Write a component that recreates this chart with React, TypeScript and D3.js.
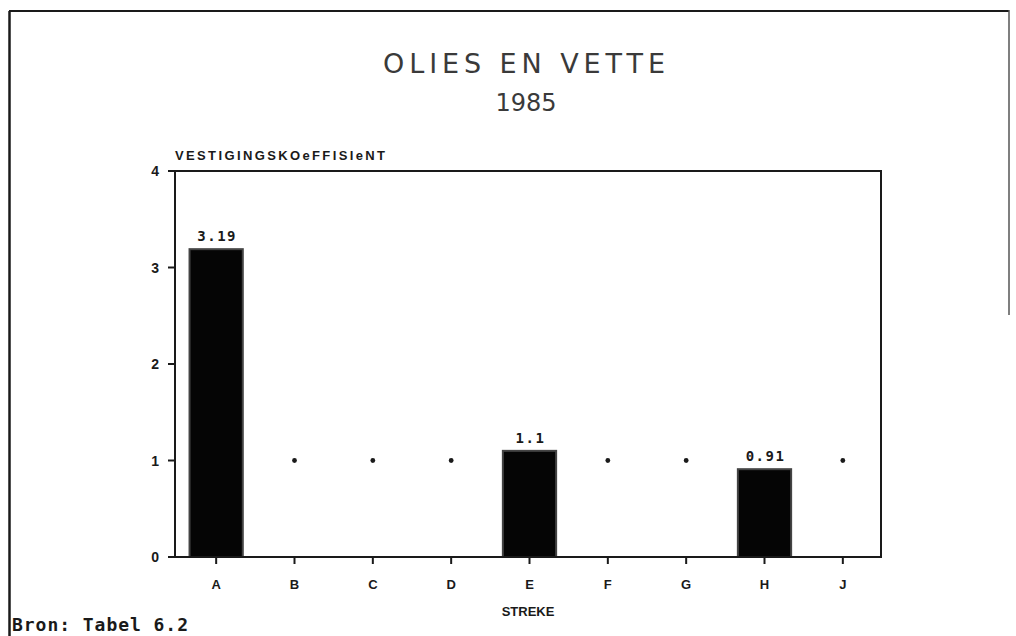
import React from "react";
import * as d3 from "d3";

const categories = ["A", "B", "C", "D", "E", "F", "G", "H", "J"];
const barValues: (number | null)[] = [3.19, null, null, null, 1.1, null, null, 0.91, null];
const dotValues: (number | null)[] = [null, 1, 1, 1, null, 1, 1, null, 1];
const barLabels = ["3.19", "", "", "", "1.1", "", "", "0.91", ""];
const yTicks = [0, 1, 2, 3, 4];

const W = 1016;
const H = 636;
const plot = { left: 175, right: 881, top: 171, bottom: 557 };

export default function App() {
  const x = d3
    .scaleBand<string>()
    .domain(categories)
    .range([plot.left + 2, plot.right + 1])
    .paddingInner(0.32)
    .paddingOuter(0.16);
  const y = d3.scaleLinear().domain([0, 4]).range([plot.bottom, plot.top]);
  const cx = (c: string) => (x(c) as number) + x.bandwidth() / 2;
  const ink = "#1a1a1a";

  return (
    <svg width={W} height={H} style={{ position: "absolute", left: 0, top: 0, background: "#fff" }}>
      <rect x={0} y={0} width={W} height={H} fill="#fff" />
      {/* outer frame */}
      <line x1={9.5} y1={11} x2={9.5} y2={H} stroke={ink} strokeWidth={2.5} />
      <line x1={9} y1={11} x2={1009} y2={11} stroke={ink} strokeWidth={2} />
      <line x1={1009} y1={10} x2={1009} y2={315} stroke="#555" strokeWidth={1.5} />

      {/* titles */}
      <text x={524} y={73} textAnchor="middle" fontFamily="DejaVu Sans" fontSize={27} fill="#3a3a3a" textLength={282} lengthAdjust="spacing">
        OLIES EN VETTE
      </text>
      <text x={526} y={111} textAnchor="middle" fontFamily="DejaVu Sans" fontSize={24} fill="#3a3a3a">
        1985
      </text>

      {/* y axis title */}
      <text x={175} y={160} fontFamily="Liberation Sans" fontWeight="bold" fontSize={13} fill={ink} textLength={210} lengthAdjust="spacing">
        VESTIGINGSKOeFFISIeNT
      </text>

      {/* bars */}
      {categories.map((c, i) =>
        barValues[i] != null ? (
          <rect
            key={"b" + c}
            x={x(c) as number}
            y={y(barValues[i] as number)}
            width={x.bandwidth()}
            height={plot.bottom - y(barValues[i] as number)}
            fill="#050505"
            stroke="#444"
            strokeWidth={2}
          />
        ) : null
      )}
      {categories.map((c, i) =>
        barValues[i] != null ? (
          <text
            key={"l" + c}
            x={cx(c) + 1}
            y={y(barValues[i] as number) - 8}
            textAnchor="middle"
            fontFamily="DejaVu Sans Mono"
            fontWeight="bold"
            fontSize={14}
            letterSpacing={1.5}
            fill={ink}
          >
            {barLabels[i]}
          </text>
        ) : null
      )}

      {/* dots */}
      {categories.map((c, i) =>
        dotValues[i] != null ? <circle key={"d" + c} cx={cx(c)} cy={y(dotValues[i] as number)} r={2.4} fill={ink} /> : null
      )}

      {/* plot frame */}
      <rect x={plot.left} y={plot.top} width={plot.right - plot.left} height={plot.bottom - plot.top} fill="none" stroke={ink} strokeWidth={2} />

      {/* y ticks */}
      {yTicks.map((t) => (
        <g key={"yt" + t}>
          <line x1={plot.left - 7} x2={plot.left} y1={y(t)} y2={y(t)} stroke={ink} strokeWidth={2} />
          <text x={159} y={y(t) + 5} textAnchor="end" fontFamily="Liberation Sans" fontWeight="bold" fontSize={14} fill={ink}>
            {t}
          </text>
        </g>
      ))}

      {/* x ticks */}
      {categories.map((c) => (
        <g key={"xt" + c}>
          <line x1={cx(c)} x2={cx(c)} y1={plot.bottom} y2={plot.bottom + 7} stroke={ink} strokeWidth={2} />
          <text x={cx(c)} y={589} textAnchor="middle" fontFamily="Liberation Sans" fontWeight="bold" fontSize={13} fill={ink}>
            {c}
          </text>
        </g>
      ))}

      <text x={(plot.left + plot.right) / 2} y={616} textAnchor="middle" fontFamily="Liberation Sans" fontWeight="bold" fontSize={13} fill={ink}>
        STREKE
      </text>

      <text x={12} y={631} fontFamily="DejaVu Sans Mono" fontWeight="bold" fontSize={18} fill={ink} textLength={176} lengthAdjust="spacing">
        Bron: Tabel 6.2
      </text>
    </svg>
  );
}
